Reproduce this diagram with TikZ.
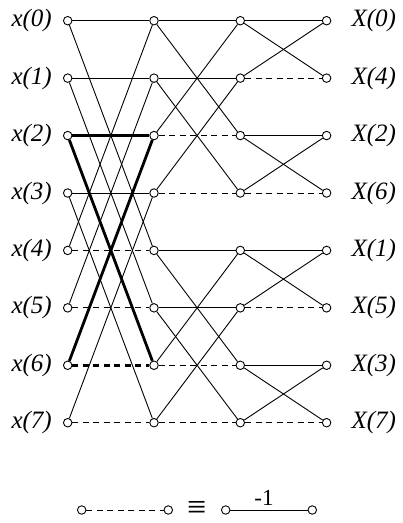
\documentclass[tikz,border=0pt]{standalone}
\usepackage{fontspec}
\setmainfont{Liberation Serif}
\usetikzlibrary{positioning}

\tikzset{
  tap/.style={circle,draw,fill=white,inner sep=0pt,minimum size=8.5pt,line width=0.9pt},
  wire/.style={line width=0.9pt},
  hot/.style={line width=2.8pt},
  neg/.style={dash pattern=on 6pt off 4.5pt},
  lbl/.style={font=\fontsize{25}{25}\selectfont\itshape,inner sep=0pt},
}

\begin{document}
\begin{tikzpicture}[x=1pt,y=1pt]
\useasboundingbox (0,0) rectangle (403,-523);

% points: column c, row r
\foreach \c in {0,...,3}
  \foreach \r in {0,...,7}
    \node[tap] (n\c\r) at (67.7+86.3*\c,-20.7-57.43*\r) {};

% inputs and outputs
\foreach \r/\k in {0/0,1/4,2/2,3/6,4/1,5/5,6/3,7/7} {
  \node[lbl,left=11pt of n0\r] (in\r) {x(\r)};
  \node[lbl,right=20pt of n3\r] (out\r) {X(\k)};
}

% stage 1
\foreach \r/\w in {0/wire,1/wire,2/hot,3/wire} {
  \pgfmathtruncatemacro\s{\r+4}
  \draw[\w] (n0\r) -- (n1\r);
  \draw[\w] (n0\r) -- (n1\s);
  \draw[\w] (n0\s) -- (n1\r);
  \draw[\w,neg] (n0\s) -- (n1\s);
}

% stage 2
\foreach \a/\b in {0/2,1/3,4/6,5/7} {
  \draw[wire] (n1\a) -- (n2\a);
  \draw[wire] (n1\a) -- (n2\b);
  \draw[wire] (n1\b) -- (n2\a);
  \draw[wire,neg] (n1\b) -- (n2\b);
}

% stage 3
\foreach \a/\b in {0/1,2/3,4/5,6/7} {
  \draw[wire] (n2\a) -- (n3\a);
  \draw[wire] (n2\a) -- (n3\b);
  \draw[wire] (n2\b) -- (n3\a);
  \draw[wire,neg] (n2\b) -- (n3\b);
}

% legend
\node[tap] (l1) at (81.7,-510) {};
\node[tap] (l2) at (168.3,-510) {};
\node[inner sep=0pt,font=\fontsize{34}{34}\selectfont] (eq) at (196.7,-510) {≡};
\node[tap] (l3) at (225.7,-510) {};
\node[tap] (l4) at (312.3,-510) {};
\draw[wire,neg] (l1) -- (l2);
\draw[wire] (l3) -- node[above=4pt,xshift=-5pt,inner sep=0pt,font=\fontsize{23}{23}\selectfont] (m1) {-1} (l4);
\end{tikzpicture}
\end{document}
